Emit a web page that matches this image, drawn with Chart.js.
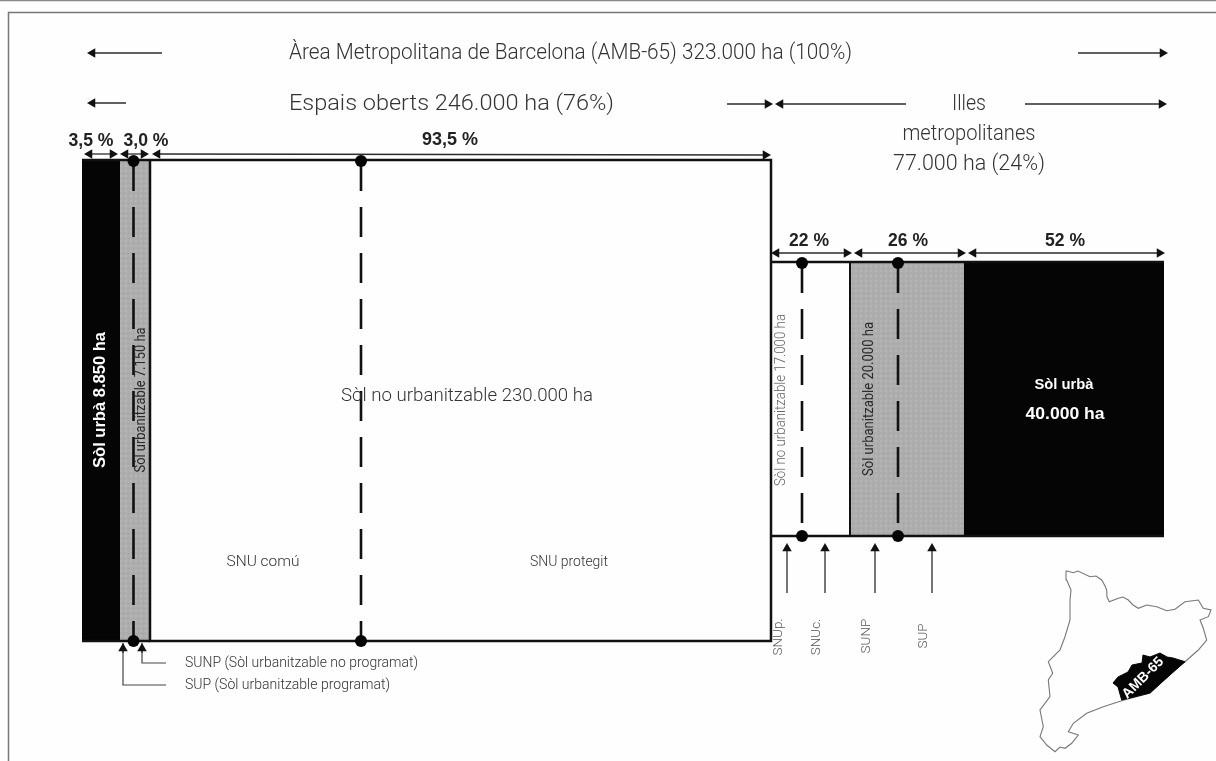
<!DOCTYPE html>
<html>
<head>
<meta charset="utf-8">
<style>
html, body { margin: 0; padding: 0; background: #fefefe; }
#wrap { position: absolute; left: 0; top: 0; width: 1216px; height: 761px; }
</style>
<script src="https://cdn.jsdelivr.net/npm/chart.js@4/dist/chart.umd.min.js"></script>
</head>
<body>
<div id="wrap"><canvas id="sheet"></canvas></div>
<script>
// block edges and heights (diagram units)
var leftEdges = [82, 120, 150, 771];
var leftTop = 160, leftBottom = 641;
var rightEdges = [771, 850, 964, 1164];
var rightTop = 262, rightBottom = 536;

var leftKinds = ["black", "grey", "white"];
var rightKinds = ["white", "grey", "black"];

// dashed dividers: x, top, bottom
var dividerX = [133.5, 361, 802, 898];
var dividerTop = [161, 161, 263, 263];
var dividerBottom = [641, 641, 536, 536];

// arrows: x0, y0, x1, y1, head at start, head at end (coordinates are the tips)
var arrows = [
    [87, 53, 162, 53, 1, 0],
    [1078, 53, 1168, 53, 0, 1],
    [87, 103, 126, 103, 1, 0],
    [727, 104, 773, 104, 0, 1],
    [775, 104, 906, 104, 1, 0],
    [1025, 104, 1167, 104, 0, 1],
    [84, 154, 118, 154, 1, 1],
    [120, 154, 149, 154, 1, 1],
    [152, 154, 771, 155, 1, 1],
    [771, 253, 852, 253, 1, 1],
    [854, 253, 966, 253, 1, 1],
    [968, 253, 1165, 253, 1, 1],
    [787, 593, 787, 543, 0, 1],
    [825, 593, 825, 543, 0, 1],
    [875, 593, 875, 543, 0, 1],
    [932, 593, 932, 543, 0, 1]
];

// elbow leaders under the left column
var leaderX = [[142, 142, 166], [123, 123, 166]];
var leaderY = [[643, 663, 663], [643, 685, 685]];

var mapOutline = [
    [1066, 570.7], [1073.3, 572.7], [1078, 571], [1090, 576.7], [1096, 576], [1101.7, 580], [1105, 586], [1106.7, 590], [1107, 597], [1109.3, 601.7],
    [1118.3, 598.3], [1123, 597], [1128.3, 600], [1133, 605], [1138.3, 608.3], [1146.7, 605], [1156.7, 606.7], [1166.7, 610.7],
    [1175, 609.3], [1185, 601.7], [1198.3, 600], [1203.3, 608.3], [1211, 610], [1208.3, 616.7], [1200, 620], [1203.3, 628.3],
    [1206.7, 640], [1198.3, 650], [1185, 661.7], [1170, 673], [1150, 693], [1121.7, 700.7], [1103.3, 706.7], [1086.7, 713.3],
    [1073.3, 723.3], [1068.3, 731.7], [1078.3, 735], [1071.7, 743.3], [1065, 748.3], [1060, 747], [1055, 751.7], [1046.7, 745],
    [1040, 736.7], [1043.3, 726.7], [1040, 710], [1050, 696.7], [1048.3, 680], [1052.7, 673.3], [1048.3, 661.7], [1060, 650],
    [1065, 636.7], [1070, 620], [1070, 600], [1071, 590], [1066.7, 580], [1066, 570.7]
];
var ambArea = [
    [1185, 661.7], [1173, 658], [1167, 657], [1160, 653], [1150, 657], [1143, 655], [1142, 663], [1132, 665], [1128, 672],
    [1118, 677], [1113, 683], [1118, 687], [1121.7, 700], [1150, 693], [1170, 675], [1185, 661.7]
];

var frameX = [1216, 8.5, 8.5];
var frameY = [12.5, 12.5, 761];
var topStripX = [0, 1216];
var topStripY = [0.5, 0.5];

// text, x, y, size, rotation, weight, colour, align, width it should span (0 = natural)
var LIGHT = "#333333", BOLD = "#222222";
var labels = [
    ["Àrea Metropolitana de Barcelona (AMB-65) 323.000 ha (100%)", 289, 53, 22, 0, "300", LIGHT, "left", 563],
    ["Espais oberts 246.000 ha (76%)", 289, 104, 22, 0, "300", LIGHT, "left", 325],
    ["Illes", 969, 104, 22, 0, "300", LIGHT, "center", 34],
    ["metropolitanes", 969, 134, 22, 0, "300", LIGHT, "center", 133],
    ["77.000 ha (24%)", 969, 164, 22, 0, "300", LIGHT, "center", 152],
    ["3,5 %", 91, 141, 17.5, 0, "b", BOLD, "center", 45],
    ["3,0 %", 146, 141, 17.5, 0, "b", BOLD, "center", 45],
    ["93,5 %", 450, 140, 17.5, 0, "b", BOLD, "center", 56],
    ["22 %", 809, 241, 17.5, 0, "b", BOLD, "center", 40],
    ["26 %", 908, 241, 17.5, 0, "b", BOLD, "center", 40],
    ["52 %", 1065, 241, 17.5, 0, "b", BOLD, "center", 40],
    ["Sòl urbà 8.850 ha", 101, 400, 16.3, -90, "b", "#ffffff", "center", 136],
    ["Sòl urbanitzable 7.150 ha", 141, 400, 14.5, -90, "400", "#2a2a2a", "center", 145],
    ["Sòl no urbanitzable 230.000 ha", 467, 396, 19, 0, "300", LIGHT, "center", 252],
    ["SNU comú", 263, 562, 15, 0, "300", LIGHT, "center", 73],
    ["SNU protegit", 569, 562, 15, 0, "300", LIGHT, "center", 78],
    ["Sòl no urbanitzable 17.000 ha", 781, 400, 14, -90, "300", "#666666", "center", 172],
    ["Sòl urbanitzable 20.000 ha", 869, 399, 14.5, -90, "400", "#2a2a2a", "center", 154],
    ["Sòl urbà", 1064, 385, 15, 0, "b", "#ffffff", "center", 59],
    ["40.000 ha", 1065, 414, 17, 0, "b", "#ffffff", "center", 79],
    ["SNUp.", 779, 637, 13.5, -90, "300", "#555555", "center", 0],
    ["SNUc.", 817, 637, 13.5, -90, "300", "#555555", "center", 0],
    ["SUNP", 867, 636, 13.5, -90, "300", "#555555", "center", 0],
    ["SUP", 924, 636, 13.5, -90, "300", "#555555", "center", 0],
    ["SUNP (Sòl urbanitzable no programat)", 185, 663, 14.5, 0, "300", LIGHT, "left", 233],
    ["SUP (Sòl urbanitzable programat)", 185, 685, 14.5, 0, "300", LIGHT, "left", 205],
    ["AMB-65", 1143, 678, 14, -45, "b", "#ffffff", "center", 0]
];

function halftone() {
    var c = document.createElement("canvas");
    c.width = 5;
    c.height = 5;
    var g = c.getContext("2d");
    g.fillStyle = "#adadad";
    g.fillRect(0, 0, 5, 5);
    g.fillStyle = "#b6b6b6";
    g.fillRect(0, 0, 2, 2);
    g.fillStyle = "#a3a3a3";
    g.fillRect(3, 3, 1, 1);
    return g.createPattern(c, "repeat");
}

var grey = halftone();
var kindColor = { black: "#050505", grey: grey, white: "#fefefe" };
var HEAD = 5.5;

function xy(xs, ys) {
    return xs.map(function (x, i) { return { x: x, y: ys[i] }; });
}

function lineSet(points, color, width, extra) {
    return Object.assign({
        data: points,
        borderColor: color,
        borderWidth: width,
        pointRadius: 0,
        tension: 0,
        fill: false
    }, extra || {});
}

function blockSets(edges, kinds, top, bottom) {
    return kinds.map(function (kind, i) {
        var x0 = edges[i], x1 = edges[i + 1];
        return lineSet(xy([x0, x1, x1, x0, x0], [top, top, bottom, bottom, top]), "rgba(0,0,0,0)", 0, {
            fill: "shape",
            backgroundColor: kindColor[kind]
        });
    });
}

function arrowSet(a) {
    var rad = Math.atan2(a[3] - a[1], a[2] - a[0]);
    var angle = rad * 180 / Math.PI;
    // the triangle is centred on its point, so pull the point back from the tip
    var dx = Math.cos(rad) * HEAD, dy = Math.sin(rad) * HEAD;
    var start = a[4] ? { x: a[0] + dx, y: a[1] + dy } : { x: a[0], y: a[1] };
    var end = a[5] ? { x: a[2] - dx, y: a[3] - dy } : { x: a[2], y: a[3] };
    return lineSet([start, end], "#2b2b2b", 1.3, {
        pointStyle: "triangle",
        pointRadius: [a[4] ? HEAD : 0, a[5] ? HEAD : 0],
        pointRotation: [angle - 90, angle + 90],
        pointBackgroundColor: "#111111",
        pointBorderWidth: 0
    });
}

// painted in this order, the list is reversed for the chart
var paint = [];
paint.push(lineSet(xy(topStripX, topStripY), "#8a8a8a", 1.5));
paint.push(lineSet(xy(frameX, frameY), "#777777", 1.5));
paint = paint.concat(blockSets(leftEdges, leftKinds, leftTop, leftBottom));
paint = paint.concat(blockSets(rightEdges, rightKinds, rightTop, rightBottom));

var OUT = "#111111";
paint.push(lineSet(xy([leftEdges[2], leftEdges[3], leftEdges[3], leftEdges[2], leftEdges[2]],
    [leftTop, leftTop, leftBottom, leftBottom, leftTop]), OUT, 2.5));
paint.push(lineSet(xy([leftEdges[0], leftEdges[2]], [leftTop, leftTop]), OUT, 2.5));
paint.push(lineSet(xy([leftEdges[0], leftEdges[2]], [leftBottom, leftBottom]), OUT, 2.5));
paint.push(lineSet(xy([rightEdges[0], rightEdges[3]], [rightTop, rightTop]), OUT, 2.5));
paint.push(lineSet(xy([rightEdges[0], rightEdges[3]], [rightBottom, rightBottom]), OUT, 2.5));
paint.push(lineSet(xy([rightEdges[1], rightEdges[1]], [rightTop, rightBottom]), OUT, 2));

dividerX.forEach(function (x, i) {
    paint.push(lineSet(xy([x, x], [dividerTop[i], dividerBottom[i]]), OUT, 2.6, { borderDash: [30, 16] }));
    paint.push(lineSet(xy([x, x], [dividerTop[i], dividerBottom[i]]), "rgba(0,0,0,0)", 0, {
        pointRadius: 6,
        pointBackgroundColor: "#050505",
        pointBorderWidth: 0
    }));
});

arrows.forEach(function (a) { paint.push(arrowSet(a)); });
leaderX.forEach(function (xs, i) {
    paint.push(lineSet(xy(xs, leaderY[i]), "#444444", 1.2));
    paint.push(arrowSet([xs[0], leaderY[i][0] + 10, xs[0], leaderY[i][0], 0, 1]));
});

paint.push(lineSet(mapOutline.map(function (p) { return { x: p[0], y: p[1] }; }), "#777777", 1.1));
paint.push(lineSet(ambArea.map(function (p) { return { x: p[0], y: p[1] }; }), "#050505", 1, {
    fill: "shape",
    backgroundColor: "#050505"
}));

var textPlugin = {
    id: "sheetText",
    afterDatasetsDraw: function (chart) {
        var ctx = chart.ctx;
        labels.forEach(function (l) {
            ctx.save();
            ctx.translate(chart.scales.x.getPixelForValue(l[1]), chart.scales.y.getPixelForValue(l[2]));
            ctx.rotate(l[4] * Math.PI / 180);
            ctx.font = l[5] === "b"
                ? "bold " + l[3] + "px 'Liberation Sans'"
                : l[5] + " " + l[3] + "px Roboto";
            ctx.fillStyle = l[6];
            ctx.textAlign = l[7];
            ctx.textBaseline = "middle";
            if (l[8]) {
                ctx.scale(l[8] / ctx.measureText(l[0]).width, 1);
            }
            ctx.fillText(l[0], 0, 0);
            ctx.restore();
        });
    }
};

new Chart(document.getElementById("sheet"), {
    type: "line",
    data: { datasets: paint.reverse() },
    plugins: [textPlugin],
    options: {
        responsive: true,
        maintainAspectRatio: false,
        animation: false,
        events: [],
        layout: { padding: 0, autoPadding: false },
        plugins: { legend: { display: false }, tooltip: { enabled: false }, title: { display: false } },
        scales: {
            x: { type: "linear", min: 0, max: 1216, display: false },
            y: { type: "linear", min: 0, max: 761, reverse: true, display: false }
        }
    }
});
</script>
</body>
</html>
